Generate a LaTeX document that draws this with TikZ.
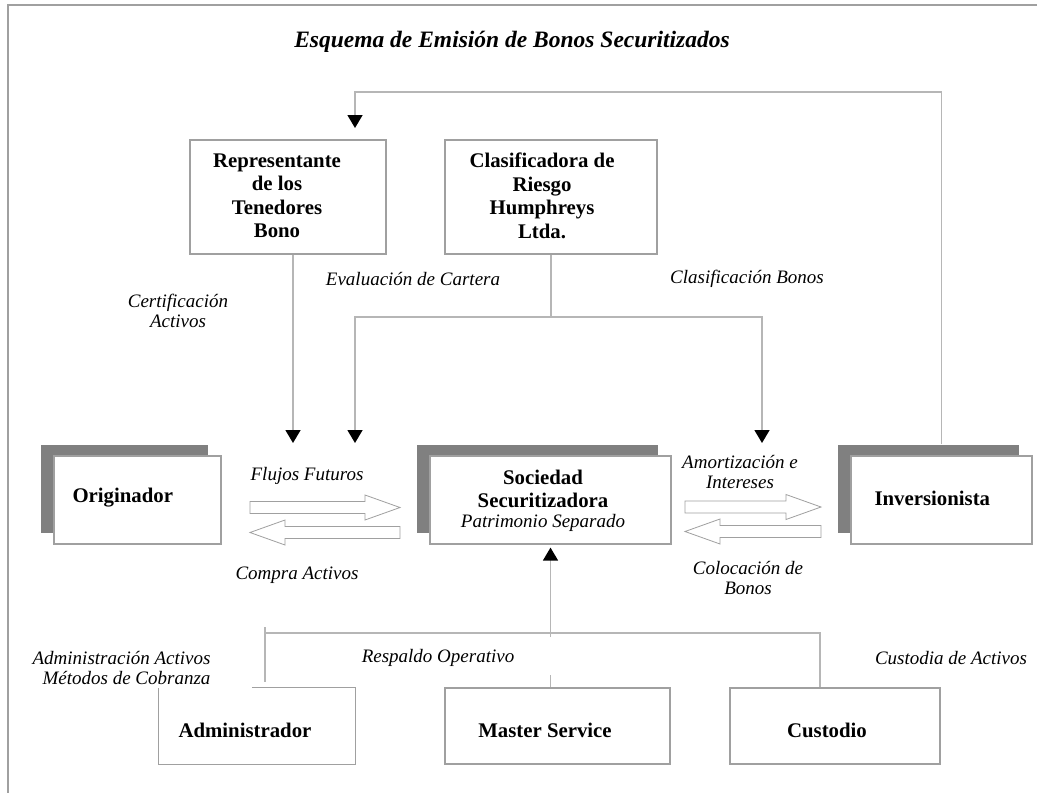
\documentclass[tikz,border=0pt]{standalone}
\usepackage{fontspec}
\setmainfont{Liberation Serif}
\usetikzlibrary{arrows.meta,shadows}
\definecolor{linegray}{RGB}{182,182,182}
\definecolor{boxgray}{RGB}{160,160,160}
\definecolor{shadegray}{RGB}{128,128,128}
\tikzset{
  box/.style={draw=boxgray, line width=1.2pt, fill=white, inner sep=0pt},
  party/.style={box, minimum height=88pt, drop shadow={shadow xshift=-13pt, shadow yshift=11pt, fill=shadegray, opacity=1}},
  boxtext/.style={font=\fontsize{20.8}{23.5}\selectfont\bfseries, align=center},
  flowtext/.style={font=\fontsize{19}{20.5}\selectfont\itshape, align=center},
  conn/.style={draw=linegray, line width=1.5pt},
  arrowed/.style={-{Triangle[width=15pt,length=13pt,color=black]}},
  fat/.style={draw=boxgray, line width=0.8pt, fill=white}
}
\begin{document}
\begin{tikzpicture}[x=1pt, y=-1pt]
	\useasboundingbox (0,0) rectangle (1047,793);
	\draw [draw=boxgray, line width=1.5pt] (1037,5) -- (8,5) -- (8,793);
	\node [font=\fontsize{23.5}{28}\selectfont\bfseries\itshape, anchor=base] (title) at (512,47) {Esquema de Emisión de Bonos Securitizados};

	\node [box, minimum width=196pt, minimum height=114pt] (rep) at (288,197) {};
	\node [boxtext] (repText) at (277,196) {Representante\\de los\\Tenedores\\Bono};
	\node [box, minimum width=212pt, minimum height=114pt] (clas) at (551,197) {};
	\node [boxtext] (clasText) at (542,196) {Clasificadora de\\Riesgo\\Humphreys\\Ltda.};

	\node [party, minimum width=167pt] (orig) at (137.5,500) {};
	\node [boxtext, anchor=west] (origText) at (69,498) {Originador};
	\node [party, minimum width=241pt] (soc) at (550.5,500) {};
	\node [boxtext] (socText) at (543,489) {Sociedad\\Securitizadora};
	\node [flowtext] (socSub) at (543,523) {Patrimonio Separado};
	\node [party, minimum width=181pt] (inv) at (941.5,500) {};
	\node [boxtext, anchor=west] (invText) at (871,498) {Inversionista};

	\node [minimum width=196pt, minimum height=76pt, inner sep=0pt] (adm) at (257,726) {};
	\draw [draw=boxgray, line width=1.2pt] ([xshift=93pt]adm.north west) -- (adm.north east) -- (adm.south east) -- (adm.south west) -- (adm.north west);
	\node [boxtext] (admText) at (245,730) {Administrador};
	\node [box, minimum width=225pt, minimum height=76pt] (mst) at (557.5,726) {};
	\node [boxtext] (mstText) at (545,730) {Master Service};
	\node [box, minimum width=210pt, minimum height=76pt] (cus) at (835,726) {};
	\node [boxtext] (cusText) at (827,730) {Custodio};

	\node [flowtext] (certLbl) at (178,311) {Certificación\\Activos};
	\node [flowtext] (evalLbl) at (413,279) {Evaluación de Cartera};
	\node [flowtext] (clasLbl) at (747,279) {Clasificación Bonos};
	\node [flowtext] (flujLbl) at (307,476) {Flujos Futuros};
	\node [flowtext] (compLbl) at (297,575) {Compra Activos};
	\node [flowtext] (amorLbl) at (740,472) {Amortización e\\Intereses};
	\node [flowtext] (colocLbl) at (748,578) {Colocación de\\Bonos};
	\node [flowtext, align=right, anchor=east] (admLbl) at (214,668) {Administración Activos\\Métodos de Cobranza};
	\node [flowtext] (respLbl) at (438,658) {Respaldo Operativo};
	\node [flowtext] (custLbl) at (951,658) {Custodia de Activos};

	\draw [fat] (250,501.5) -- (365,501.5) -- (365,495) -- (400,507.5) -- (365,520) -- (365,513.5) -- (250,513.5) -- cycle;
	\draw [fat] (400,526.5) -- (285,526.5) -- (285,520) -- (250,532.5) -- (285,545) -- (285,538.5) -- (400,538.5) -- cycle;
	\draw [fat] (685,501) -- (786,501) -- (786,494.5) -- (821,507) -- (786,519.5) -- (786,513) -- (685,513) -- cycle;
	\draw [fat] (821,525.5) -- (720,525.5) -- (720,519) -- (685,531.5) -- (720,544) -- (720,537.5) -- (821,537.5) -- cycle;

	\coordinate (topRow) at (0,92);
	\coordinate (repIn) at (355,128);
	\draw [conn, arrowed] ([yshift=11pt]inv.north) -- (inv.north |- topRow) -| (repIn);
	\coordinate (flowIn) at (293,443);
	\draw [conn, arrowed] (rep.south -| flowIn) -- (flowIn);
	\coordinate (split) at (551,317);
	\coordinate (socIn) at (355,443);
	\coordinate (invIn) at (762,443);
	\draw [conn] (clas.south) -- (split);
	\draw [conn, arrowed] (split) -| (socIn);
	\draw [conn, arrowed] (split) -| (invIn);

	\coordinate (bus) at (0,633);
	\coordinate (busTop) at (0,637);
	\coordinate (admHi) at (265,627);
	\coordinate (admLo) at (265,682);
	\draw [conn, arrowed] (soc.south |- busTop) -- ([yshift=-3pt]soc.south);
	\draw [conn] (admHi) -- (admLo);
	\draw [conn] (admLo |- bus) -| ([xshift=-15pt]cus.north);
	\draw [conn] ([xshift=-7pt]mst.north) -- ++(0,-12);
\end{tikzpicture}
\end{document}
